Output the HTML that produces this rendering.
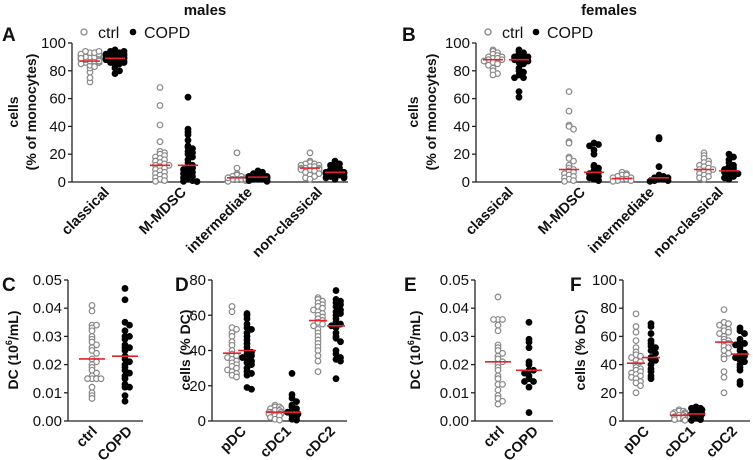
<!DOCTYPE html>
<html><head><meta charset="utf-8">
<style>
html,body{margin:0;padding:0;background:#fff;}
svg{display:block;font-family:"Liberation Sans",Arial,sans-serif;}
</style></head>
<body>
<svg id="fig" width="753" height="460" viewBox="0 0 753 460" xmlns="http://www.w3.org/2000/svg"></svg>
<script>
// ---- data ----
const monoCats = ["classical","M-MDSC","intermediate","non-classical"];
const dcCats = ["pDC","cDC1","cDC2"];
const countCats = ["ctrl","COPD"];
const monoTicks = [0,20,40,60,80,100];
const countTicks = [0,0.01,0.02,0.03,0.04,0.05];
const dcTicksM = [0,20,40,60,80];
const dcTicksF = [0,20,40,60,80,100];

// Males monocytes
const mClassCtrl = [72,75,79,82,84,85,86,86,87,87,88,88,88,89,89,90,90,90,91,91,92,92,93,93,94,94,83,85,86,87,89];
const mClassCOPD = [78,80,82,84,85,86,87,88,88,89,89,89,90,90,90,91,91,92,92,93,93,94,94,95,88,87,86];
const mMdscCtrl = [68,55,41,29,22,21,20,19,18,17,16,15,14,13,12,12,11,10,9,8,7,6,5,4,3,2,1,0.5];
const mMdscCOPD = [61,38,36,34,30,26,25,24,22,21,20,18,16,14,12,11,10,9,8,7,6,5,4,3,2,1,0.5,0.3];
const mInterCtrl = [21,10,6,5,4,4,3,3,3,2,2,2,2,1,1,1,1,0.5,3,2];
const mInterCOPD = [8,7,6,5,5,4,4,4,3,3,3,3,2,2,2,1,1,0.5];
const mNonCtrl = [21,15,14,13,13,12,12,11,11,10,10,10,9,9,8,8,7,6,5,4,3,2];
const mNonCOPD = [15,14,13,12,11,10,9,8,8,7,7,7,6,6,5,5,4,4,3,3,2];
const mMonoMedCtrl = [87,12,3,10];
const mMonoMedCOPD = [89,12,3.5,7];
// Females monocytes
const fClassCtrl = [95,94,93,92,91,90,90,89,89,88,88,87,86,85,84,82,80,78,77];
const fClassCOPD = [95,94,93,92,91,90,90,89,88,88,87,86,85,82,80,79,77,75,75,65,61];
const fMdscCtrl = [65,51,41,40,38,29,28,18,17,15,12,10,9,8,7,6,5,4,3,2,1,0.5];
const fMdscCOPD = [28,27,26,23,20,12,11,10,8,7,6,5,4,3,2,1];
const fInterCtrl = [7,6,5,5,4,3,3,2,2,1,1,0.5];
const fInterCOPD = [32,31,11,5,4,3,3,2,2,1,1,0.5];
const fNonCtrl = [21,19,17,15,14,13,12,11,10,9,9,8,7,6,5,4,3,2];
const fNonCOPD = [20,18,16,14,12,11,10,9,8,8,7,6,5,4,3,2];
const fMonoMedCtrl = [88,9,2.5,9];
const fMonoMedCOPD = [88,7,3,8];
// DC counts
const mCountCtrl = [0.041,0.039,0.034,0.034,0.033,0.032,0.030,0.029,0.028,0.027,0.026,0.025,0.024,0.022,0.021,0.020,0.019,0.018,0.017,0.016,0.015,0.015,0.015,0.015,0.012,0.010,0.009,0.008];
const mCountCOPD = [0.047,0.043,0.035,0.034,0.032,0.030,0.030,0.029,0.027,0.026,0.026,0.025,0.023,0.022,0.021,0.020,0.019,0.018,0.017,0.016,0.015,0.013,0.012,0.012,0.009,0.007];
const mCountMed = [0.022,0.023];
const fCountCtrl = [0.044,0.036,0.036,0.036,0.034,0.032,0.027,0.026,0.025,0.024,0.023,0.022,0.021,0.020,0.019,0.018,0.016,0.015,0.013,0.013,0.011,0.009,0.008,0.007,0.006];
const fCountCOPD = [0.035,0.029,0.028,0.026,0.021,0.020,0.018,0.018,0.017,0.016,0.015,0.014,0.014,0.012,0.003];
const fCountMed = [0.021,0.018];
// DC subsets
const mPdcCtrl = [65,62,53,52,50,48,45,43,40,38,37,36,35,34,33,32,31,30,29,28,27,26,25];
const mPdcCOPD = [61,60,58,55,53,52,50,48,46,44,42,40,39,38,37,36,35,34,33,32,30,28,27,26,19,18];
const mCdc1Ctrl = [9,8,8,7,7,6,6,5,5,5,4,4,3,3,2,1,0.5];
const mCdc1COPD = [27,15,13,11,9,8,7,6,5,5,4,3,2,1,0.5];
const mCdc2Ctrl = [70,69,68,67,66,65,64,63,62,61,60,59,58,57,56,55,54,52,50,48,46,44,42,40,37,34,28];
const mCdc2COPD = [74,69,68,67,66,65,63,62,61,60,58,56,55,54,53,50,48,47,45,40,38,36,35,34,24];
const mDcMedCtrl = [38.5,5,57];
const mDcMedCOPD = [40,5,54];
const fPdcCtrl = [76,67,63,57,52,49,47,46,45,43,42,40,38,37,36,35,34,33,32,31,30,28,27,25,20];
const fPdcCOPD = [69,67,62,57,55,53,52,50,48,45,44,43,40,37,35,32,30];
const fCdc1Ctrl = [8,7,7,6,6,5,5,4,4,3,3,2,2,1,0.5];
const fCdc1COPD = [10,9,9,8,7,6,5,5,4,3,2,1,0.5];
const fCdc2Ctrl = [79,70,69,68,66,65,64,63,62,60,58,57,56,55,53,52,50,48,46,44,35,31,20];
const fCdc2COPD = [66,64,62,58,56,55,54,52,50,48,47,46,45,43,42,40,38,36,28,26];
const fDcMedCtrl = [41,4,56];
const fDcMedCOPD = [45,5,47.5];

// ---- drawing ----
const NS = "http://www.w3.org/2000/svg";
const svg = document.getElementById("fig");
function mk(tag, attrs, parent, text){
  const e = document.createElementNS(NS, tag);
  for (const k in attrs) e.setAttribute(k, attrs[k]);
  if (text !== undefined) e.textContent = text;
  (parent || svg).appendChild(e);
  return e;
}

function panel(p){
  const g = mk("g", {});
  
  
  const y = v => p.y0 + (v - p.min) / (p.max - p.min) * (p.y1 - p.y0);
  const ax = mk("line", {x1:p.ax, y1:p.y1, x2:p.ax, y2:p.y0, stroke:"#222", "stroke-width":1.3}, g);
  
  
  const bx = mk("line", {x1:p.ax, y1:p.y0, x2:p.axEnd, y2:p.y0, stroke:"#222", "stroke-width":1.3}, g);
  
  
  p.ticks.forEach(t => {
    const ty = y(t);
    mk("line", {x1:p.ax-4, y1:ty, x2:p.ax, y2:ty, stroke:"#222", "stroke-width":1.3}, g);
    const tl = mk("text", {x:p.ax-6, y:ty+5, "text-anchor":"end", "font-size":15, fill:"#111"}, g, p.fmt(t));
    
    
  });
  const tt = mk("text", {transform:`translate(${p.titleX},${p.titleY}) rotate(-90)`, "text-anchor":"middle", "font-size":14, "font-weight":"bold", fill:"#111"}, g);
  
  
  p.title.forEach((line, i) => {
    const ts = mk("tspan", {x:0, dy: i===0 ? (p.title.length>1 ? -3 : 0) : 18}, tt);
    if (line === "DC10") {
      ts.textContent = "DC (10";
      mk("tspan", {"font-size":9, dy:-6}, tt, "6");
      mk("tspan", {dy:6}, tt, "/mL)");
    } else ts.textContent = line;
  });
  p.cats.forEach((c, i) => {
    const lx = p.labelX[i];
    const lab = mk("text", {transform:`translate(${lx},${p.y0+11}) rotate(-45)`, "text-anchor":"end", "font-size":14.5, "font-weight":"bold", fill:"#111"}, g, c);
    
    
  });
  p.groups.forEach(gr => {
    const bins = {};
    gr.vals.forEach(v => {
      const py = y(v);
      const b = Math.round(py / 4);
      const n = bins[b] || 0; bins[b] = n + 1;
      const off = n === 0 ? 0 : (n % 2 ? 1 : -1) * Math.ceil(n / 2) * 4.5;
      const dx = Math.max(-p.spread, Math.min(p.spread, off));
      const pt = mk("circle", {cx: gr.x + dx, cy: py, r: 2.8,
        fill: gr.filled ? "#000" : "#fff", stroke: gr.filled ? "#000" : "#888", "stroke-width": 1.2}, g);
      
      
    });
    const my = y(gr.med);
    const ml = mk("line", {x1: gr.x - p.medW, y1: my, x2: gr.x + p.medW, y2: my, stroke:"#e8202a", "stroke-width":1.6}, g);
    
    
  });
}

function monoGroups(xs, lists, medC, medD){
  const out = [];
  lists.forEach((pair, i) => {
    out.push({x: xs[i][0], vals: pair[0], med: medC[i], filled:false});
    out.push({x: xs[i][1], vals: pair[1], med: medD[i], filled:true});
  });
  return out;
}

const intF = t => String(t);
const decF = t => t.toFixed(2);

panel({name:"panel-a-males-monocytes", ax:72, axEnd:348, y0:182, y1:43, min:0, max:100, ticks:monoTicks, fmt:intF,
  titleX:21, titleY:112, title:["cells","(% of monocytes)"], cats:monoCats, labelX:[110,187,253,323], spread:9, medW:10,
  groups: monoGroups([[90,115],[160,188],[237,258],[310,335]],
    [[mClassCtrl,mClassCOPD],[mMdscCtrl,mMdscCOPD],[mInterCtrl,mInterCOPD],[mNonCtrl,mNonCOPD]], mMonoMedCtrl, mMonoMedCOPD)});
panel({name:"panel-b-females-monocytes", ax:476, axEnd:738, y0:182, y1:43, min:0, max:100, ticks:monoTicks, fmt:intF,
  titleX:421, titleY:112, title:["cells","(% of monocytes)"], cats:monoCats, labelX:[514,586,655,724], spread:9, medW:10,
  groups: monoGroups([[493,519],[569,594],[622,659],[704,729]],
    [[fClassCtrl,fClassCOPD],[fMdscCtrl,fMdscCOPD],[fInterCtrl,fInterCOPD],[fNonCtrl,fNonCOPD]], fMonoMedCtrl, fMonoMedCOPD)});
panel({name:"panel-c-males-dc-count", ax:68, axEnd:143, y0:421, y1:280, min:0, max:0.05, ticks:countTicks, fmt:decF,
  titleX:18, titleY:350, title:["DC10"], cats:countCats, labelX:[98,133], spread:12, medW:13,
  groups:[{x:92, vals:mCountCtrl, med:mCountMed[0], filled:false},{x:125, vals:mCountCOPD, med:mCountMed[1], filled:true}]});
panel({name:"panel-d-males-dc-subsets", ax:212, axEnd:347, y0:421, y1:280, min:0, max:80, ticks:dcTicksM, fmt:intF,
  titleX:190, titleY:350, title:["cells (% DC)"], cats:dcCats, labelX:[247,292,336], spread:6, medW:9,
  groups: monoGroups([[232,247],[275,292],[318,336]],
    [[mPdcCtrl,mPdcCOPD],[mCdc1Ctrl,mCdc1COPD],[mCdc2Ctrl,mCdc2COPD]], mDcMedCtrl, mDcMedCOPD)});
panel({name:"panel-e-females-dc-count", ax:475, axEnd:553, y0:421, y1:280, min:0, max:0.05, ticks:countTicks, fmt:decF,
  titleX:420, titleY:350, title:["DC10"], cats:countCats, labelX:[505,539], spread:12, medW:13,
  groups:[{x:498, vals:fCountCtrl, med:fCountMed[0], filled:false},{x:529, vals:fCountCOPD, med:fCountMed[1], filled:true}]});
panel({name:"panel-f-females-dc-subsets", ax:623, axEnd:750, y0:421, y1:280, min:0, max:100, ticks:dcTicksF, fmt:intF,
  titleX:585, titleY:350, title:["cells (% DC)"], cats:dcCats, labelX:[650,696,738], spread:6, medW:9,
  groups: monoGroups([[636,651],[679,696],[724,740]],
    [[fPdcCtrl,fPdcCOPD],[fCdc1Ctrl,fCdc1COPD],[fCdc2Ctrl,fCdc2COPD]], fDcMedCtrl, fDcMedCOPD)});

[["males",205,15,"males-title"],["females",609,15,"females-title"]].forEach(a=>{
  const t = mk("text",{x:a[1],y:a[2],"text-anchor":"middle","font-size":15,"font-weight":"bold",fill:"#111"},svg,a[0]);
  
  
});
[["A",2,41],["B",402,41],["C",2,291],["D",175,291],["E",404,291],["F",570,291]].forEach(a=>{
  const t = mk("text",{x:a[1],y:a[2],"font-size":19,"font-weight":"bold",fill:"#111"},svg,a[0]);
  
  
});
[[84,133],[488,536]].forEach((l,i)=>{
  const g = mk("g",{});
  
  
  mk("circle",{cx:l[0],cy:32,r:3,fill:"#fff",stroke:"#888","stroke-width":1.3},g);
  mk("text",{x:l[0]+14,y:38,"font-size":16,fill:"#111"},g,"ctrl");
  mk("circle",{cx:l[1],cy:32,r:3.3,fill:"#000"},g);
  mk("text",{x:l[1]+11,y:38,"font-size":16,fill:"#111"},g,"COPD");
});
</script>
</body></html>
